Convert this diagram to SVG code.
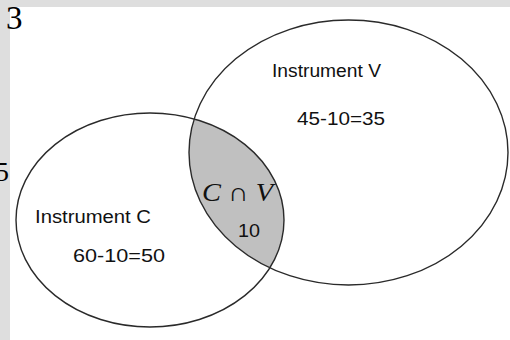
<svg xmlns="http://www.w3.org/2000/svg" width="510" height="340" viewBox="0 0 510 340">
<style>
.ell{fill:none;stroke:#2a2a2a;stroke-width:1.4}
.lbl{font-family:"Liberation Sans",Arial,sans-serif;font-size:18px;fill:#111}
.num{font-family:"Liberation Serif","Times New Roman",serif;fill:#000}
.math{font-family:"Liberation Serif","Times New Roman",serif;font-style:italic;font-size:26px;fill:#111}
</style>
<defs>
<clipPath id="clipV"><ellipse cx="348.5" cy="152.5" rx="159.5" ry="132.5"/></clipPath>
</defs>
<rect x="0" y="0" width="510" height="340" fill="#ffffff"/>
<rect x="0" y="0" width="510" height="7" fill="#dedede"/>
<rect x="0" y="0" width="10" height="340" fill="#dedede"/>
<text class="num" x="6" y="29" font-size="33">3</text>
<text class="num" x="-5" y="181" font-size="28">5</text>
<g id="intersection">
<ellipse cx="150" cy="220" rx="134" ry="107" fill="#c0c0c0" clip-path="url(#clipV)"/>
<text class="math" x="202" y="201" textLength="71" lengthAdjust="spacingAndGlyphs">C ∩ V</text>
<text class="lbl" x="238" y="237" textLength="22" lengthAdjust="spacingAndGlyphs">10</text>
</g>
<g id="setC">
<ellipse class="ell" cx="150" cy="220" rx="134" ry="107"/>
<text class="lbl" x="35" y="223" textLength="116" lengthAdjust="spacingAndGlyphs">Instrument C</text>
<text class="lbl" x="73" y="262" textLength="92" lengthAdjust="spacingAndGlyphs">60-10=50</text>
</g>
<g id="setV">
<ellipse class="ell" cx="348.5" cy="152.5" rx="159.5" ry="132.5"/>
<text class="lbl" x="272" y="77" textLength="109" lengthAdjust="spacingAndGlyphs">Instrument V</text>
<text class="lbl" x="297" y="125" textLength="88" lengthAdjust="spacingAndGlyphs">45-10=35</text>
</g>
</svg>
